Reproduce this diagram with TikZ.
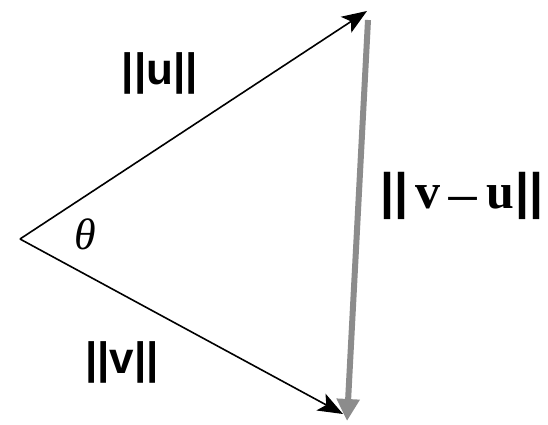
\documentclass[tikz,border=0pt]{standalone}
\usepackage{fontspec}
\setmainfont{Liberation Serif}
\setsansfont{Liberation Sans}
\usetikzlibrary{arrows.meta}
\definecolor{diffgray}{RGB}{140,140,140}
\begin{document}
\begin{tikzpicture}[x=1pt,y=-1pt,
  vec/.style={line width=1.6pt,-{Stealth[length=25pt,width=19pt,inset=6pt]}},
  diff/.style={line width=6pt,draw=diffgray,-{Triangle[length=22pt,width=22pt,fill=diffgray]}},
  lab/.style={inner sep=0pt,anchor=center}]
\useasboundingbox[fill=white] (0,0) rectangle (548,425);
\coordinate (O) at (20,239);
\coordinate (U) at (367,11);
\coordinate (V) at (343,414);
\coordinate (G1) at (368,20);
\coordinate (G2) at (347,421);
\draw[diff] (G1) -- (G2);
\draw[vec] (O) -- (U);
\draw[vec] (O) -- (V);
\node[lab] (lu) at (160,73) {\fontsize{44}{44}\selectfont\sffamily\bfseries ||u||};
\node[lab] (lv) at (122,362) {\fontsize{44}{44}\selectfont\sffamily\bfseries ||v||};
\node[lab] (lvu) at (462,196) {\fontsize{50}{50}\selectfont\bfseries{\sffamily ||}\hspace{7pt}v\hspace{5pt}\raisebox{-11pt}{\fontsize{62}{62}\selectfont\mdseries −}\hspace{6pt}u\hspace{2pt}{\sffamily ||}};
\node[lab] (th) at (85,234) {\fontsize{44}{44}\selectfont\itshape θ};
\end{tikzpicture}
\end{document}
